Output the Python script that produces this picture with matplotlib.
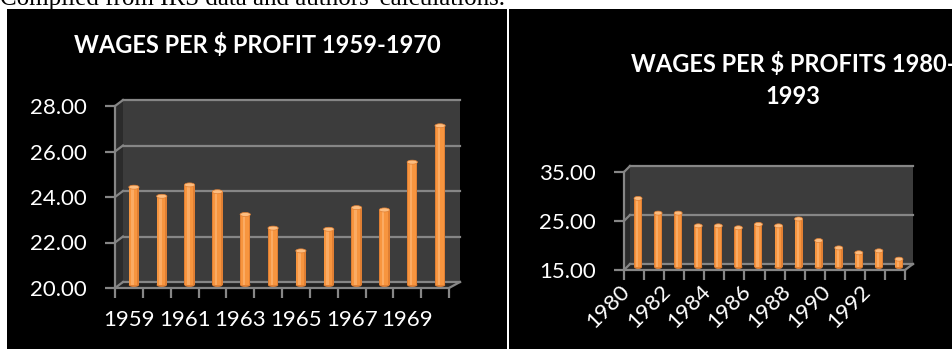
import numpy as np
import matplotlib.pyplot as plt
from matplotlib.patches import Rectangle, Polygon, Ellipse
from matplotlib.transforms import ScaledTranslation

W, H, DPI = 952, 349, 100

years_a = ['1959', '1960', '1961', '1962', '1963', '1964',
           '1965', '1966', '1967', '1968', '1969', '1970']
wages_a = [24.3, 23.9, 24.4, 24.1, 23.1, 22.5, 21.5, 22.45, 23.4, 23.3, 25.4, 27.0]
ticks_a = [20, 22, 24, 26, 28]

years_b = ['1980', '1981', '1982', '1983', '1984', '1985', '1986',
           '1987', '1988', '1989', '1990', '1991', '1992', '1993']
wages_b = [29.0, 26.0, 26.0, 23.4, 23.4, 23.0, 23.7, 23.4, 24.8, 20.4, 18.9, 17.9, 18.3, 16.6]
ticks_b = [15, 25, 35]

GRID = '#868686'
WALL = '#3c3c3c'
SIDE = '#2b2b2b'
FLOOR = '#232323'
OR_DARK = '#e07f33'
OR_MID = '#f7953f'
OR_LIGHT = '#fbab63'
OR_CAP = '#fcbd80'
FONT = 'Lato'

fig = plt.figure(figsize=(W / DPI, H / DPI), dpi=DPI, facecolor='white')


def rect_px(x0, y0, x1, y1):
    # pixel box measured from the top-left corner -> figure fraction
    return [x0 / W, 1 - y1 / H, (x1 - x0) / W, (y1 - y0) / H]


# black chart panels, kept behind the axes
fig.add_artist(Rectangle((7 / W, 0), 500 / W, 340 / H, transform=fig.transFigure,
                         facecolor='black', edgecolor='none', zorder=-5))
fig.add_artist(Rectangle((509 / W, 0), 443 / W, 340 / H, transform=fig.transFigure,
                         facecolor='black', edgecolor='none', zorder=-5))

fig.text(0.5 / W, 1 - 5 / H, "Compiled from IRS data and authors' calculations.",
         family='Liberation Serif', fontsize=18, va='baseline', ha='left', color='black')


def panel(box, years, vals, ticks, back, bar_off, bar_w, rotate):
    x0, y0, x1, y1 = box
    ax = fig.add_axes(rect_px(*box))
    n = len(vals)
    x = np.arange(n)
    ymin, ymax = ticks[0], ticks[-1]
    ax.set_xlim(-0.5, n - 0.5)
    ax.set_ylim(ymin, ymax)
    ax.set_facecolor('none')
    for s in ['top', 'right']:
        ax.spines[s].set_visible(False)
    for s in ['left', 'bottom']:
        ax.spines[s].set_color(GRID)
        ax.spines[s].set_linewidth(1.6)
        ax.spines[s].set_zorder(5)

    ux = n / (x1 - x0)
    uy = (ymax - ymin) / (y1 - y0)
    dxl, dxr, dy = back
    L, R = -0.5, n - 0.5
    bl = (L + dxl * ux, ymin + dy * uy)
    br = (R + dxr * ux, ymin + dy * uy)
    tr = (R + dxr * ux, ymax + dy * uy)
    tl = (L + dxl * ux, ymax + dy * uy)

    kw = dict(clip_on=False, edgecolor='none')
    ax.add_patch(Polygon([bl, br, tr, tl], facecolor=WALL, zorder=0, **kw))
    ax.add_patch(Polygon([(L, ymin), (L, ymax), tl, bl], facecolor=SIDE, zorder=0.5, **kw))
    ax.add_patch(Polygon([(L, ymin), (R, ymin), br, bl], facecolor=FLOOR, zorder=0.5, **kw))

    for t in ticks:
        yb = t + dy * uy
        ax.plot([bl[0], br[0]], [yb, yb], color=GRID, lw=1.6, clip_on=False, zorder=1)
        ax.plot([L, bl[0]], [t, yb], color=GRID, lw=1.6, clip_on=False, zorder=1)
    ax.plot([R, br[0]], [ymin, br[1]], color=GRID, lw=1.6, clip_on=False, zorder=1)

    # cylinder-like bars standing halfway into the box
    trans = ax.transData + ScaledTranslation(bar_off[0] / DPI, bar_off[1] / DPI,
                                             fig.dpi_scale_trans)
    v = np.array(vals)
    ax.bar(x, v - ymin, bottom=ymin, width=bar_w, color=OR_DARK,
           transform=trans, clip_on=False, zorder=3)
    ax.bar(x - 0.05 * bar_w, v - ymin, bottom=ymin, width=0.78 * bar_w, color=OR_MID,
           transform=trans, clip_on=False, zorder=3.1)
    ax.bar(x - 0.12 * bar_w, v - ymin, bottom=ymin, width=0.25 * bar_w, color=OR_LIGHT,
           transform=trans, clip_on=False, zorder=3.2)
    for xi, vi in zip(x, v):
        ax.add_patch(Ellipse((xi, vi), bar_w, 4 * uy, transform=trans, facecolor=OR_CAP,
                             edgecolor=OR_DARK, lw=0.5, clip_on=False, zorder=3.3))
        ax.add_patch(Ellipse((xi, ymin), bar_w, 4 * uy, transform=trans, facecolor=OR_DARK,
                             edgecolor='none', clip_on=False, zorder=2.9))

    ax.set_yticks(ticks, labels=[f'{t:.2f}' for t in ticks])
    ax.set_xticks(np.arange(n + 1) - 0.5, labels=[''] * (n + 1))
    ax.set_xticks(x[::2], labels=years[::2], minor=True)
    ax.tick_params(axis='y', length=7, width=1.6, color=GRID, pad=13,
                   labelcolor='white', labelsize=16)
    ax.tick_params(axis='x', which='major', length=7, width=1.6, color=GRID)
    ax.tick_params(axis='x', which='minor', length=0, pad=16,
                   labelcolor='white', labelsize=16)
    for lab in ax.get_yticklabels() + ax.get_xticklabels(minor=True):
        lab.set_fontfamily(FONT)
    if rotate:
        for lab in ax.get_xticklabels(minor=True):
            lab.set_rotation(45)
            lab.set_ha('right')
            lab.set_va('top')
        ax.tick_params(axis='x', which='minor', pad=8)
    return ax


panel((115, 106, 449, 288), years_a, wages_a, ticks_a, (8, 11, 6), (5, 3), 0.37, False)
panel((624, 172, 905, 270), years_b, wages_b, ticks_b, (6, 8, 6), (4, 3), 0.4, True)

fig.text(257 / W, 1 - 45 / H, r'WAGES PER \$ PROFIT 1959-1970', ha='center', va='center',
         color='white', fontsize=17, fontweight='bold', family=FONT)
fig.text(793 / W, 1 - 80 / H, 'WAGES PER \\$ PROFITS 1980-\n1993', ha='center', va='center',
         color='white', fontsize=17, fontweight='bold', family=FONT, linespacing=1.5)

fig.savefig('out.png', dpi=DPI, facecolor='white')
